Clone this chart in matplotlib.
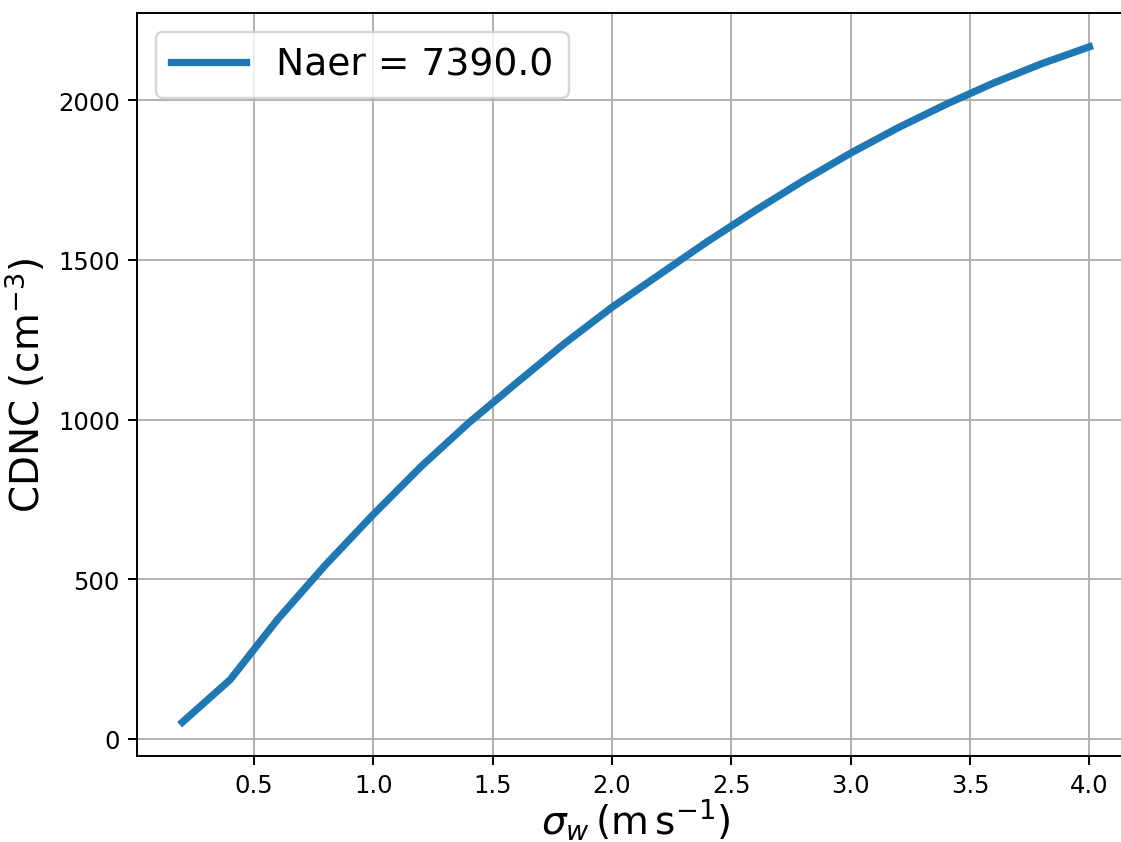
import numpy as np
import matplotlib
matplotlib.use("Agg")
import matplotlib.pyplot as plt

# --- data ---
sigma_w = [0.2, 0.4, 0.6, 0.8, 1.0, 1.2, 1.4, 1.6, 1.8, 2.0,
           2.2, 2.4, 2.6, 2.8, 3.0, 3.2, 3.4, 3.6, 3.8, 4.0]
cdnc = [52, 185, 375, 545, 703, 853, 990, 1115, 1238, 1352,
        1455, 1558, 1655, 1748, 1835, 1915, 1988, 2055, 2115, 2168]
naer = 7390.0

# --- figure ---
fig = plt.figure(figsize=(6.41, 4.817), dpi=175)
ax = fig.add_axes([0.1221, 0.102, 0.8895, 0.8814])

ax.plot(sigma_w, cdnc, lw=3, color="#1f77b4", label=f"Naer = {naer}")

ax.set_xlabel(r"$\sigma_w\,(\mathrm{m\,s^{-1}})$", fontsize=16, labelpad=0)
ax.set_ylabel(r"CDNC (cm$^{-3}$)", fontsize=16)
ax.set_xticks([0.5, 1.0, 1.5, 2.0, 2.5, 3.0, 3.5, 4.0])
ax.set_yticks([0, 500, 1000, 1500, 2000])
ax.legend(loc="upper left", fontsize=15.5)
ax.grid(True)

fig.savefig("out.png", dpi=175)
